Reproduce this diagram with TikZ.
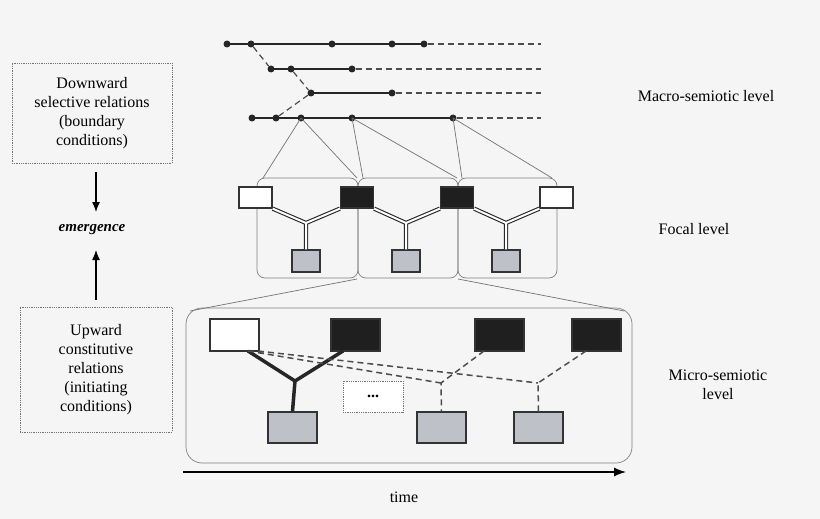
\documentclass[tikz,border=0pt]{standalone}
\usepackage{fontspec}
\usetikzlibrary{arrows.meta}
\setmainfont{Liberation Serif}
\definecolor{gfill}{HTML}{BEC1C7}
\begin{document}
\begin{tikzpicture}[x=1pt,y=-1pt,
  dot/.style={circle,fill=black!85,inner sep=0pt,minimum size=7pt},
  mline/.style={line width=2.2pt,black!85},
  mdash/.style={dash pattern=on 6pt off 4pt,line width=1.2pt,black!70},
  frame/.style={draw=black!50,rounded corners=8pt,line width=0.7pt},
  wbox/.style={draw=black!80,fill=white,line width=1.3pt},
  bbox/.style={draw=black!80,fill=black!88,line width=1.3pt},
  gbox/.style={draw=black!80,fill=gfill,line width=1.3pt},
  dbl/.style={line width=1.1pt,black!85,double=white,double distance=2pt},
  thin/.style={black!55,line width=0.7pt},
  txt/.style={font=\fontsize{16}{19}\selectfont,align=center},
  dbox/.style={draw=black!55,densely dotted,line width=0.8pt}]
\fill[black!4] (0,0) rectangle (820,519);
\useasboundingbox (0,0) rectangle (820,519);
% macro lines
\foreach \n/\x in {a1/227,a2/251,a3/332,a4/392,a5/424}{\node[dot] (\n) at (\x,44){};}
\foreach \n/\x in {b1/271,b2/291,b3/352}{\node[dot] (\n) at (\x,69){};}
\foreach \n/\x in {c1/311,c2/392}{\node[dot] (\n) at (\x,93){};}
\foreach \n/\x in {d1/252,d2/276,d3/301,d4/352,d5/453}{\node[dot] (\n) at (\x,118){};}
\coordinate (ae) at (541,44);\coordinate (be) at (541,69);
\coordinate (ce) at (541,93);\coordinate (de) at (541,118);
\draw[mline] (a1.center)--(a5.center); \draw[mdash] (a5)--(ae);
\draw[mline] (b1.center)--(b3.center); \draw[mdash] (b3)--(be);
\draw[mline] (c1.center)--(c2.center); \draw[mdash] (c2)--(ce);
\draw[mline] (d1.center)--(d5.center); \draw[mdash] (d5)--(de);
\draw[mdash] (a2)--(b1); \draw[mdash] (b2)--(c1); \draw[mdash] (c1)--(d2);
% focal frames
\draw[frame] (257,178) rectangle (358,278);
\draw[frame] (358,178) rectangle (458,278);
\draw[frame] (458,178) rectangle (557,278);
\coordinate (f1a) at (263,178);\coordinate (f1b) at (357,178);
\coordinate (f2a) at (363,178);\coordinate (f2b) at (457,178);
\coordinate (f3a) at (462,178);\coordinate (f3b) at (552,178);
\draw[thin] (d3.center)--(f1a) (d3.center)--(f1b) (d4.center)--(f2a) (d4.center)--(f2b) (d5.center)--(f3a) (d5.center)--(f3b);
% focal nodes
\foreach \i/\xa/\xb/\s in {1/239/272/wbox,2/340/374/bbox,3/440/474/bbox,4/540/573/wbox}{
  \node[\s,minimum width=33pt,minimum height=21pt,inner sep=0pt] (F\i) at ({(\xa+\xb)/2},197.5){};}
\foreach \i/\x in {1/306,2/406,3/506}{
  \node[gbox,minimum width=28pt,minimum height=22pt,inner sep=0pt] (G\i) at (\x,261){};
  \coordinate (J\i) at (\x,223);}
\draw[dbl] (F1.south east)--(J1)--(F2.south west) (J1)--(G1.north);
\draw[dbl] (F2.south east)--(J2)--(F3.south west) (J2)--(G2.north);
\draw[dbl] (F3.south east)--(J3)--(F4.south west) (J3)--(G3.north);
% micro
\draw[frame,rounded corners=16pt] (186,308) rectangle (632,463);
\coordinate (m1) at (357,279);\coordinate (m2) at (190,311);
\coordinate (m3) at (458,279);\coordinate (m4) at (624,311);
\draw[thin] (m1)--(m2) (m3)--(m4);
\node[wbox,minimum width=49pt,minimum height=32pt,inner sep=0pt] (M1) at (234.5,335){};
\node[bbox,minimum width=49pt,minimum height=32pt,inner sep=0pt] (M2) at (355.5,335){};
\node[bbox,minimum width=49pt,minimum height=32pt,inner sep=0pt] (M3) at (499.5,335){};
\node[bbox,minimum width=49pt,minimum height=32pt,inner sep=0pt] (M4) at (596.5,335){};
\node[gbox,minimum width=49pt,minimum height=31pt,inner sep=0pt] (N1) at (292.5,427.5){};
\node[gbox,minimum width=49pt,minimum height=31pt,inner sep=0pt] (N2) at (441.5,427.5){};
\node[gbox,minimum width=49pt,minimum height=31pt,inner sep=0pt] (N3) at (538.5,427.5){};
\node[dbox,fill=white,minimum width=60pt,minimum height=31pt,inner sep=0pt,font=\fontsize{16}{19}\selectfont\bfseries] (dots) at (373,396.5){...};
\coordinate (K1) at (295,381);\coordinate (K2) at (441,383);\coordinate (K3) at (538,383);
\coordinate (w1) at (248,351);\coordinate (w2) at (258,351);
\coordinate (b2) at (343,351);\coordinate (b3) at (484,351);\coordinate (b4) at (586,351);
\draw[line width=3.5pt,black!85] (w1)--(K1)--(b2) (K1)--(N1.north);
\draw[mdash,line width=1.5pt] (w1)--(K2) (w2)--(K3) (b3)--(K2)--(N2.north) (b4)--(K3)--(N3.north);
% time
\coordinate (t0) at (183,472);\coordinate (t1) at (626,472);
\draw[-{Latex[length=12pt,width=9pt]},line width=1.3pt] (t0)--(t1);
\node[txt] (time) at (404,497) {time};
% left
\node[txt,dbox,minimum width=160pt,minimum height=100pt] (down) at (92,113) {Downward\\selective relations\\(boundary\\conditions)};
\node[txt,font=\fontsize{15}{18}\selectfont\bfseries\itshape] (em) at (92,230) {emergence};
\node[txt,dbox,minimum width=152pt,minimum height=125pt] (up) at (96,369.5) {Upward\\constitutive\\relations\\(initiating\\conditions)};
\coordinate (u0) at (96,172);\coordinate (u1) at (96,212);
\coordinate (v0) at (96,300);\coordinate (v1) at (96,250);
\draw[-{Latex[length=10pt,width=8pt]},line width=1.3pt] (u0)--(u1);
\draw[-{Latex[length=10pt,width=8pt]},line width=1.3pt] (v0)--(v1);
% right labels
\node[txt] (macro) at (706,96) {Macro-semiotic level};
\node[txt] (focal) at (694,229) {Focal level};
\node[txt] (micro) at (718,385) {Micro-semiotic\\level};
\end{tikzpicture}
\end{document}
